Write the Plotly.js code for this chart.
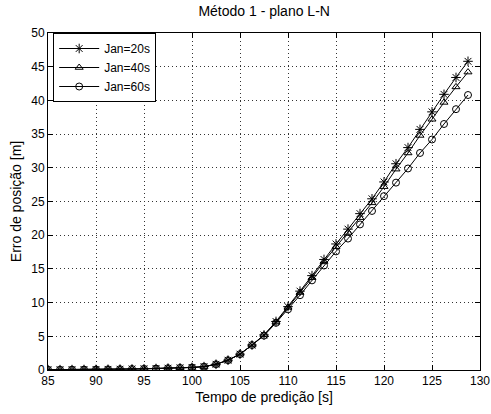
<!DOCTYPE html>
<html>
<head>
<meta charset="utf-8">
<script src="https://cdn.plot.ly/plotly-3.0.1.min.js"></script>
<style>html,body{margin:0;padding:0;background:#fff;}#chart{width:491px;height:414px;}</style>
</head>
<body>
<div id="chart"></div>
<script>
const tempo = [85, 86.25, 87.5, 88.75, 90, 91.25, 92.5, 93.75, 95, 96.25, 97.5, 98.75,
  100, 101.25, 102.5, 103.75, 105, 106.25, 107.5, 108.75, 110, 111.25, 112.5, 113.75,
  115, 116.25, 117.5, 118.75, 120, 121.25, 122.5, 123.75, 125, 126.25, 127.5, 128.75];
const jan20 = [0.05, 0.05, 0.06, 0.07, 0.08, 0.1, 0.12, 0.15, 0.18, 0.22, 0.27, 0.32,
  0.38, 0.5, 0.85, 1.45, 2.35, 3.7, 5.2, 7.2, 9.4, 11.7, 14.0, 16.4,
  18.7, 20.9, 23.2, 25.4, 27.9, 30.6, 33.0, 35.7, 38.3, 40.9, 43.4, 45.8];
const jan40 = [0.05, 0.05, 0.06, 0.07, 0.08, 0.1, 0.12, 0.15, 0.18, 0.22, 0.27, 0.32,
  0.38, 0.5, 0.85, 1.45, 2.35, 3.7, 5.2, 7.1, 9.3, 11.5, 13.7, 16.1,
  18.3, 20.4, 22.6, 24.8, 27.2, 29.8, 32.2, 34.8, 37.2, 39.7, 42.0, 44.2];
const jan60 = [0.05, 0.05, 0.06, 0.07, 0.08, 0.1, 0.12, 0.15, 0.18, 0.22, 0.27, 0.32,
  0.38, 0.5, 0.85, 1.45, 2.35, 3.7, 5.1, 7.0, 9.0, 11.1, 13.3, 15.5,
  17.6, 19.5, 21.6, 23.6, 25.8, 27.8, 29.9, 32.2, 34.2, 36.5, 38.7, 40.8];
const seriesNames = ["Jan=20s", "Jan=40s", "Jan=60s"];
const seriesSymbols = ["asterisk-open", "triangle-up-open", "circle-open"];
const seriesData = [jan20, jan40, jan60];

const traces = seriesData.map((ys, k) => ({
  x: tempo, y: ys, name: seriesNames[k], type: "scatter", mode: "lines+markers",
  line: {color: "#000", width: 1},
  marker: {symbol: seriesSymbols[k], size: k === 0 ? 8 : 7, color: "#000", line: {color: "#000", width: 1}}
}));

const axisCommon = {
  showline: true, linecolor: "#000", linewidth: 1, mirror: "ticks",
  ticks: "inside", ticklen: 5, tickcolor: "#000",
  showgrid: true, gridcolor: "#333", griddash: "1px,3px", gridwidth: 1,
  zeroline: false, tickfont: {family: "Liberation Sans, Arial, sans-serif", size: 12, color: "#000"}
};

const layout = {
  width: 491, height: 414,
  margin: {l: 48, r: 11, t: 33, b: 44},
  paper_bgcolor: "#fff", plot_bgcolor: "#fff",
  font: {family: "Liberation Sans, Arial, sans-serif", color: "#000", size: 12},
  title: {text: "Método 1 - plano L-N", x: 0.538, xanchor: "center", y: 0.972, yanchor: "middle",
    font: {size: 14, color: "#000"}},
  xaxis: Object.assign({}, axisCommon, {range: [85, 130], dtick: 5, tick0: 85,
    title: {text: "Tempo de predição [s]", font: {size: 14}, standoff: 4}}),
  yaxis: Object.assign({}, axisCommon, {range: [0, 50], dtick: 5, tick0: 0,
    title: {text: "Erro de posição [m]", font: {size: 14}, standoff: 6}}),
  showlegend: true,
  legend: {x: 0.012, y: 1.0, xanchor: "left", yanchor: "top", bgcolor: "#fff",
    bordercolor: "#000", borderwidth: 1, font: {size: 12}, tracegroupgap: 0, itemwidth: 40}
};

Plotly.newPlot("chart", traces, layout, {displayModeBar: false, staticPlot: true});
</script>
</body>
</html>
